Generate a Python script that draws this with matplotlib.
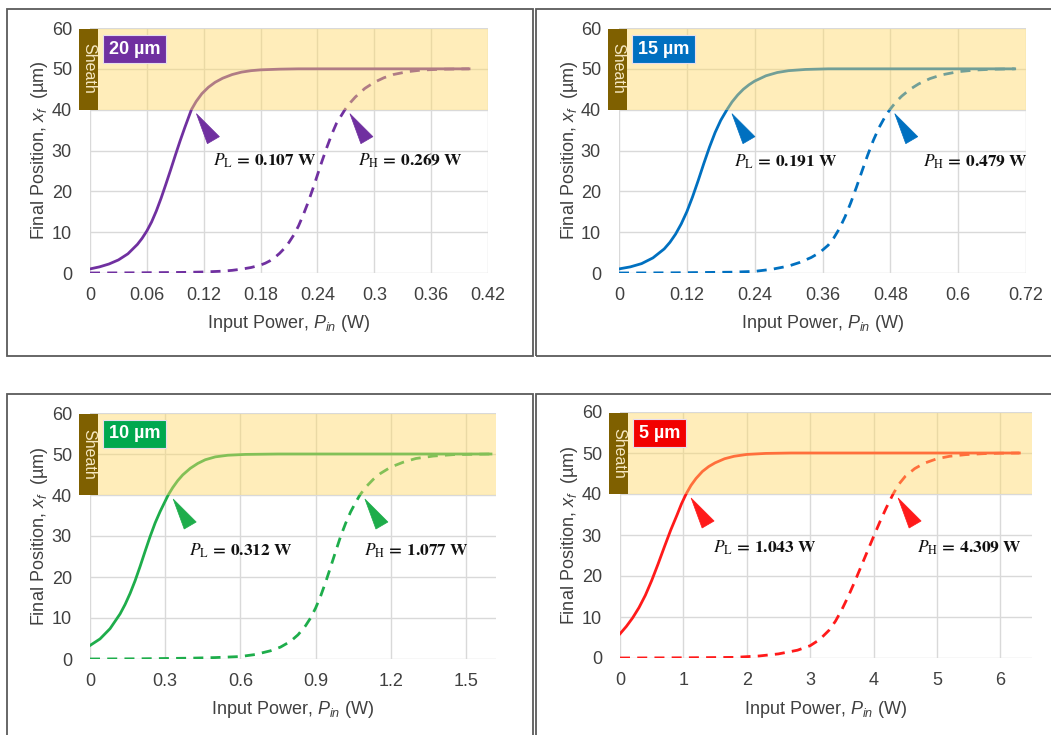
import matplotlib
matplotlib.use("Agg")
import matplotlib.pyplot as plt
import matplotlib.transforms as mtransforms
from matplotlib.patches import Rectangle, Polygon

plt.rcParams["font.family"] = "Liberation Sans"
plt.rcParams["mathtext.fontset"] = "custom"
plt.rcParams["mathtext.rm"] = "Liberation Sans"
plt.rcParams["mathtext.it"] = "Liberation Sans:italic"
plt.rcParams["mathtext.bf"] = "Liberation Sans:bold"

# ---------------- data ----------------
gap_labels = ["20 µm", "15 µm", "10 µm", "5 µm"]
colors = ["#7030A0", "#0070C0", "#1EAD4B", "#FF1A1A"]
box_colors = ["#7030A0", "#0070C0", "#00A84F", "#F20000"]

p_low = [0.107, 0.191, 0.312, 1.043]
p_high = [0.269, 0.479, 1.077, 4.309]

xticks_20 = [0, 0.06, 0.12, 0.18, 0.24, 0.3, 0.36, 0.42]
xticks_15 = [0, 0.12, 0.24, 0.36, 0.48, 0.6, 0.72]
xticks_10 = [0, 0.3, 0.6, 0.9, 1.2, 1.5]
xticks_5 = [0, 1, 2, 3, 4, 5, 6]
yticks = [0, 10, 20, 30, 40, 50, 60]
xmax = [0.42, 0.72, 1.62, 6.5]

# 20 um gap
low_x_20 = [0, 0.01, 0.02, 0.03, 0.04, 0.05, 0.055, 0.06, 0.065, 0.07, 0.075,
            0.08, 0.085, 0.09, 0.095, 0.10, 0.107, 0.112, 0.118, 0.125, 0.132,
            0.14, 0.15, 0.16, 0.17, 0.18, 0.20, 0.22, 0.30, 0.40]
low_y_20 = [1.0, 1.5, 2.2, 3.2, 4.7, 7.0, 8.5, 10.3, 12.5, 15.2, 18.3,
            21.7, 25.2, 28.8, 32.3, 35.6, 40.0, 42.0, 43.9, 45.5, 46.7,
            47.7, 48.6, 49.2, 49.55, 49.75, 49.92, 50, 50, 50]
high_x_20 = [0, 0.05, 0.10, 0.12, 0.14, 0.15, 0.16, 0.17, 0.18, 0.185, 0.19,
             0.195, 0.20, 0.205, 0.21, 0.215, 0.22, 0.225, 0.23, 0.235, 0.24,
             0.245, 0.25, 0.255, 0.26, 0.269, 0.275, 0.28, 0.29, 0.30, 0.31,
             0.32, 0.335, 0.35, 0.37, 0.40]
high_y_20 = [0, 0.05, 0.15, 0.25, 0.45, 0.65, 0.95, 1.35, 1.95, 2.4, 3.0,
             3.8, 4.8, 6.0, 7.5, 9.3, 11.5, 14.2, 17.2, 20.5, 24.0,
             27.5, 30.8, 33.9, 36.6, 40.0, 41.8, 43.1, 45.2, 46.7, 47.8,
             48.6, 49.3, 49.7, 49.9, 50]

# 15 um gap
low_x_15 = [0, 0.02, 0.04, 0.06, 0.08, 0.09, 0.10, 0.11, 0.12, 0.13, 0.14,
            0.15, 0.16, 0.17, 0.18, 0.191, 0.20, 0.21, 0.22, 0.23, 0.24, 0.26,
            0.28, 0.30, 0.33, 0.37, 0.45, 0.70]
low_y_15 = [1.0, 1.5, 2.3, 3.7, 5.9, 7.5, 9.5, 12.0, 15.0, 18.6, 22.6,
            26.8, 30.8, 34.4, 37.4, 40.0, 41.9, 43.6, 45.0, 46.1, 47.0, 48.3,
            49.1, 49.55, 49.85, 50, 50, 50]
high_x_15 = [0, 0.10, 0.20, 0.24, 0.27, 0.30, 0.32, 0.34, 0.355, 0.37, 0.38,
             0.39, 0.40, 0.41, 0.42, 0.43, 0.44, 0.45, 0.46, 0.47, 0.479, 0.49,
             0.50, 0.515, 0.53, 0.55, 0.57, 0.60, 0.63, 0.66, 0.70]
high_y_15 = [0, 0.05, 0.2, 0.4, 0.9, 1.7, 2.6, 3.8, 5.0, 6.8, 8.6,
             10.9, 13.8, 17.2, 21.0, 25.0, 28.9, 32.5, 35.6, 38.1, 40.0, 41.9,
             43.3, 45.0, 46.3, 47.6, 48.5, 49.3, 49.7, 49.9, 50]

# 10 um gap
low_x_10 = [0, 0.04, 0.08, 0.12, 0.14, 0.16, 0.18, 0.20, 0.22, 0.24, 0.26,
            0.28, 0.30, 0.312, 0.33, 0.35, 0.37, 0.40, 0.43, 0.46, 0.50, 0.55,
            0.62, 0.75, 1.0, 1.60]
low_y_10 = [3.3, 4.9, 7.4, 11.0, 13.3, 16.0, 19.1, 22.6, 26.3, 29.9, 33.2,
            36.0, 38.5, 40.0, 41.8, 43.5, 44.9, 46.5, 47.7, 48.6, 49.3, 49.7,
            49.9, 50, 50, 50]
high_x_10 = [0, 0.2, 0.4, 0.5, 0.6, 0.66, 0.72, 0.76, 0.80, 0.83, 0.86, 0.88,
             0.90, 0.92, 0.94, 0.96, 0.98, 1.00, 1.02, 1.04, 1.06, 1.077, 1.10,
             1.13, 1.16, 1.20, 1.25, 1.30, 1.37, 1.45, 1.60]
high_y_10 = [0, 0.05, 0.2, 0.35, 0.6, 1.1, 2.0, 2.9, 4.3, 5.9, 8.1, 10.0,
             12.4, 15.3, 18.7, 22.4, 26.2, 29.9, 33.1, 35.9, 38.2, 40.0, 41.9,
             43.8, 45.3, 46.8, 48.0, 48.9, 49.5, 49.85, 50]

# 5 um gap
low_x_5 = [0, 0.1, 0.2, 0.3, 0.4, 0.5, 0.6, 0.7, 0.8, 0.9, 0.97, 1.043, 1.12,
           1.2, 1.3, 1.4, 1.5, 1.65, 1.8, 2.0, 2.3, 2.7, 3.2, 4.5, 6.3]
low_y_5 = [5.9, 7.7, 9.8, 12.3, 15.3, 18.9, 22.9, 27.1, 31.2, 34.9, 37.6, 40.0,
           42.1, 43.8, 45.5, 46.7, 47.6, 48.6, 49.2, 49.65, 49.9, 50, 50, 50, 50]
high_x_5 = [0, 1.0, 1.8, 2.2, 2.5, 2.8, 3.0, 3.15, 3.3, 3.4, 3.5, 3.6, 3.7, 3.8,
            3.9, 4.0, 4.1, 4.2, 4.309, 4.4, 4.5, 4.65, 4.8, 5.0, 5.2, 5.45,
            5.75, 6.0, 6.3]
high_y_5 = [0, 0.05, 0.15, 0.5, 1.0, 1.9, 3.0, 4.5, 6.8, 9.0, 11.8, 15.0, 18.5,
            22.2, 25.9, 29.6, 33.2, 36.6, 40.0, 42.4, 44.3, 46.2, 47.5, 48.6,
            49.2, 49.6, 49.85, 49.95, 50]

low_curves = [(low_x_20, low_y_20), (low_x_15, low_y_15),
              (low_x_10, low_y_10), (low_x_5, low_y_5)]
high_curves = [(high_x_20, high_y_20), (high_x_15, high_y_15),
               (high_x_10, high_y_10), (high_x_5, high_y_5)]
xtick_sets = [xticks_20, xticks_15, xticks_10, xticks_5]

sheath_lo, sheath_hi = 40, 60

# ---------------- layout (pixels) ----------------
W, H = 1051, 735
axes_px = [(90, 488, 28, 273), (619, 1026, 28, 273),
           (90, 496, 413, 659), (620, 1032, 412, 658)]
frames_px = [(7, 533, 9, 356), (536, 1062, 9, 356),
             (7, 533, 394, 745), (536, 1062, 394, 745)]
# annotation text anchors (x in data units, baseline y in data units)
label_pos_low = [(0.1298, 26.4), (0.2034, 26.0), (0.394, 25.1), (1.469, 25.6)]
label_pos_high = [(0.283, 26.4), (0.538, 26.0), (1.094, 25.1), (4.69, 25.6)]

fig = plt.figure(figsize=(W / 100, H / 100), dpi=100)

for l, r, t, b in frames_px:
    fig.patches.append(Rectangle((l / W, 1 - b / H), (r - l) / W, (b - t) / H,
                                 transform=fig.transFigure, fill=False,
                                 edgecolor="#5A5A5A", linewidth=1.3))

text_grey = "#404040"


def fmt_tick(v):
    return "%g" % v


for i in range(4):
    l, r, t, b = axes_px[i]
    wpx, hpx = r - l, b - t
    ax = fig.add_axes([l / W, 1 - b / H, wpx / W, hpx / H])
    ax.set_xlim(0, xmax[i])
    ax.set_ylim(0, 60)
    ax.set_xticks(xtick_sets[i])
    ax.set_xticklabels([fmt_tick(v) for v in xtick_sets[i]])
    ax.set_yticks(yticks)
    ax.tick_params(axis="both", length=0, labelsize=13, colors=text_grey)
    ax.tick_params(axis="y", pad=13)
    ax.tick_params(axis="x", pad=10)
    for s in ax.spines.values():
        s.set_visible(False)
    ax.grid(True, color="#D9D9D9", linewidth=1.0)
    ax.set_axisbelow(True)

    c = colors[i]
    lx, ly = low_curves[i]
    hx, hy = high_curves[i]
    ax.plot(lx, ly, color=c, lw=2.0, zorder=2, solid_joinstyle="round")
    ax.plot(hx, hy, color=c, lw=2.0, zorder=2, linestyle=(0, (3.6, 2.6)))

    # sheath band and its tag
    blend = mtransforms.blended_transform_factory(ax.transAxes, ax.transData)
    ax.add_patch(Rectangle((-11 / wpx, sheath_lo), (wpx + 11) / wpx,
                           sheath_hi - sheath_lo - 0.3, transform=blend,
                           facecolor="#FFD966", alpha=0.45, lw=0, zorder=3,
                           clip_on=False))
    ax.add_patch(Rectangle((-11 / wpx, sheath_lo), 19 / wpx,
                           sheath_hi - sheath_lo - 0.3, transform=blend,
                           facecolor="#7F6000", lw=0, zorder=4, clip_on=False))
    ax.text(-1.5 / wpx, 50, "Sheath", transform=blend, rotation=-90,
            ha="center", va="center", color="#F6E8C3", fontsize=11.5,
            zorder=5, clip_on=False)

    # gap size tag
    ax.text(19 / wpx, 1 - 21 / hpx, gap_labels[i], transform=ax.transAxes,
            ha="left", va="center", color="white", fontsize=13,
            fontweight="bold", zorder=6,
            bbox=dict(boxstyle="square,pad=0.33", facecolor=box_colors[i],
                      edgecolor="#E6DDEE", linewidth=0.8))

    # threshold markers
    for p, (tx, ty), sub in ((p_low[i], label_pos_low[i], "L"),
                             (p_high[i], label_pos_high[i], "H")):
        tr = mtransforms.ScaledTranslation(p, sheath_lo, ax.transData)
        ax.add_patch(Polygon([(5, -4), (16, -34), (28, -27)], closed=True,
                             transform=tr, facecolor=c, edgecolor=c, lw=0.5,
                             zorder=5, clip_on=False))
        ax.text(tx, ty,
                r"$P_{\mathrm{%s}}\mathbf{\,=\,%.3f\ W}$" % (sub, p),
                math_fontfamily="stix", fontsize=12.5, color="#111111",
                ha="left", va="baseline", zorder=6)

    ax.set_xlabel(r"Input Power, $P_{in}$ (W)", fontsize=13, color=text_grey)
    ax.set_ylabel(r"Final Position, $x_f$  (µm)", fontsize=13, color=text_grey)
    ax.xaxis.set_label_coords(0.5, -51 / hpx)
    ax.xaxis.label.set_va("center")
    ax.yaxis.set_label_coords(-50 / wpx, 0.5)
    ax.yaxis.label.set_va("center")

fig.savefig("out.png", dpi=100)
